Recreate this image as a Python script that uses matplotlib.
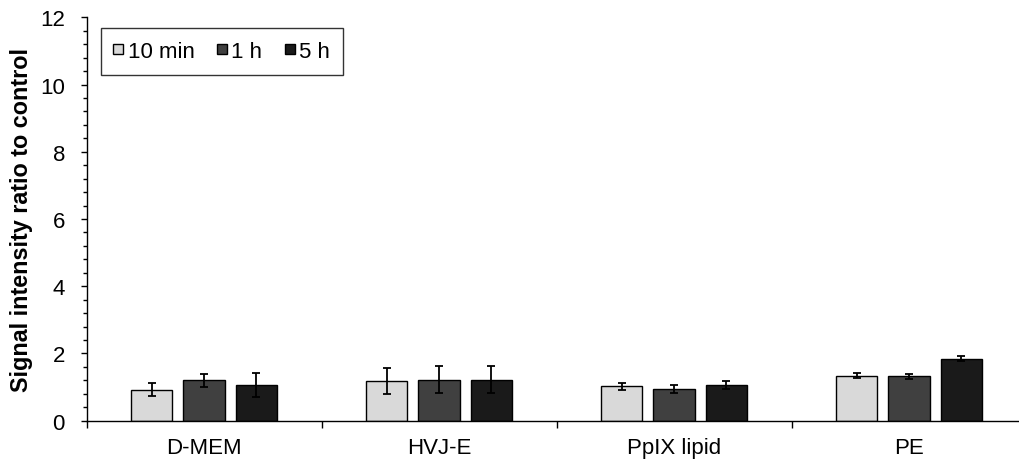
import matplotlib
matplotlib.use("Agg")
import matplotlib.pyplot as plt
from matplotlib.ticker import MultipleLocator
import numpy as np

categories = ["D-MEM", "HVJ-E", "PpIX lipid", "PE"]
series = ["10 min", "1 h", "5 h"]
vals_10min = [0.92, 1.18, 1.02, 1.34]
vals_1h = [1.20, 1.22, 0.94, 1.32]
vals_5h = [1.06, 1.22, 1.06, 1.85]
err_10min = [0.19, 0.40, 0.11, 0.07]
err_1h = [0.20, 0.40, 0.11, 0.07]
err_5h = [0.35, 0.40, 0.12, 0.07]
colors = ["#D9D9D9", "#404040", "#1A1A1A"]

plt.rcParams['font.family'] = ['Liberation Sans', 'DejaVu Sans']
FS = 16

fig = plt.figure(figsize=(10.19, 4.64), dpi=100)
ax = fig.add_axes([86.5/1019, 42.3/464, 940/1019, 403.4/464])

x = np.arange(len(categories))
w = 0.177
step = 0.2226
for k, (v, e, c, lab) in enumerate(zip([vals_10min, vals_1h, vals_5h],
                                        [err_10min, err_1h, err_5h], colors, series)):
    ax.bar(x + (k - 1) * step, v, width=w, color=c, edgecolor="black",
           linewidth=1.0, label=lab, zorder=2)
    ax.errorbar(x + (k - 1) * step, v, yerr=e, fmt="none", ecolor="black",
                elinewidth=1.3, capsize=3, capthick=1.3, zorder=3)

ax.set_xlim(-0.5, 3.5)
ax.set_ylim(0, 12)
ax.yaxis.set_major_locator(MultipleLocator(2))
ax.yaxis.set_minor_locator(MultipleLocator(0.4))
ax.set_xticks(x)
ax.set_xticklabels(categories, fontsize=FS)
ax.set_xticks(np.arange(-0.5, 4.0, 1.0), minor=True)
ax.tick_params(axis="x", which="major", length=0, pad=12)
ax.tick_params(axis="x", which="minor", length=5, width=1, direction="out")
ax.tick_params(axis="y", which="major", length=4.5, width=1, direction="out", labelsize=FS, pad=11)
ax.tick_params(axis="y", which="minor", length=3, width=1, direction="out")

for s in ["top", "right"]:
    ax.spines[s].set_visible(False)
for s in ["left", "bottom"]:
    ax.spines[s].set_linewidth(1.0)

ax.set_ylabel("Signal intensity ratio to control", fontsize=16.8, fontweight="bold")
ax.yaxis.label.set_verticalalignment("center")
ax.yaxis.set_label_coords(-0.069, 0.5)

leg = ax.legend(loc="upper left", bbox_to_anchor=(0.0149, 0.9735), ncol=3, fontsize=FS,
                frameon=True, fancybox=False, edgecolor="black", handlelength=0.45,
                handleheight=0.3, handletextpad=0.2, columnspacing=1.0,
                borderpad=0.58, borderaxespad=0)
leg.get_frame().set_linewidth(1.0)

fig.savefig("out.png", dpi=100)
